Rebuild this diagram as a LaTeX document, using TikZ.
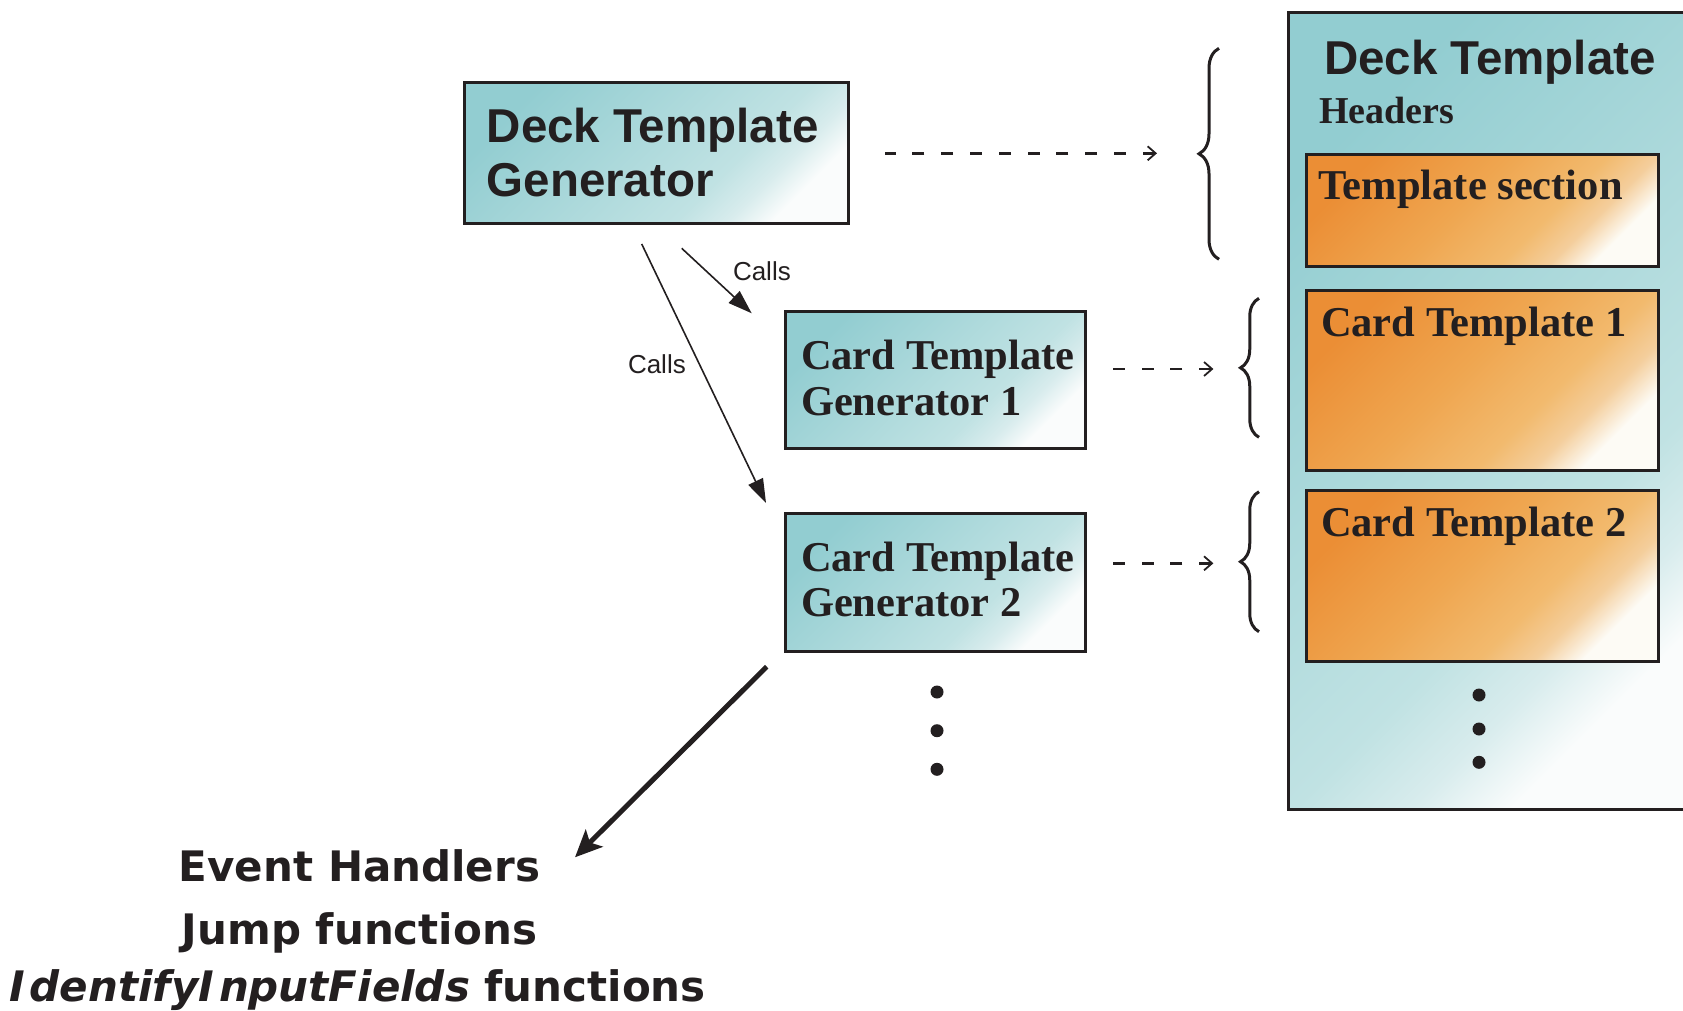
\documentclass[tikz,border=0pt]{standalone}
\usepackage{fontspec}
\setmainfont{Liberation Serif}
\newfontfamily\arialfont{Liberation Sans}
\newfontfamily\vfont{DejaVu Sans}[BoldFont={DejaVu Sans Bold},BoldItalicFont={DejaVu Sans Bold Oblique},ItalicFont={DejaVu Sans Oblique}]
\usetikzlibrary{arrows.meta,decorations.pathreplacing,calc}
\definecolor{ink}{HTML}{231F20}
\definecolor{tealA}{HTML}{92CDD1}
\definecolor{tealB}{HTML}{C0E2E3}
\definecolor{tealC}{HTML}{D8ECED}
\definecolor{tealD}{HTML}{FAFCFC}
\definecolor{orA}{HTML}{EB8E35}
\definecolor{orB}{HTML}{EFA650}
\definecolor{orC}{HTML}{F2BA6E}
\definecolor{orD}{HTML}{F4CE9C}
\definecolor{orE}{HTML}{FDFBF5}
\pgfdeclarehorizontalshading{tealgrad}{100bp}{color(0bp)=(tealA); color(25bp)=(tealA); color(62bp)=(tealB); color(69bp)=(tealC); color(75bp)=(tealD); color(100bp)=(tealD)}
\pgfdeclarehorizontalshading{orgrad}{100bp}{color(0bp)=(orA); color(25bp)=(orA); color(46bp)=(orB); color(61bp)=(orC); color(68.5bp)=(orD); color(75bp)=(orE); color(100bp)=(orE)}
\begin{document}
\begin{tikzpicture}[x=1pt,y=-1pt,
  box/.style={draw=ink, line width=3pt, anchor=north west, inner sep=0pt, outer sep=0pt, shade, shading angle=-45},
  tealbox/.style={box, shading=tealgrad},
  orbox/.style={box, shading=orgrad},
  txt/.style={inner sep=0pt, outer sep=0pt, anchor=base west, text=ink},
  sanshead/.style={txt, font={\arialfont\bfseries\fontsize{47.5pt}{50pt}\selectfont}},
  serifhead/.style={txt, font={\bfseries\fontsize{42.5pt}{46pt}\selectfont}},
  headersfont/.style={txt, font={\bfseries\fontsize{38pt}{42pt}\selectfont}},
  callsfont/.style={txt, font={\arialfont\fontsize{26pt}{28pt}\selectfont}},
  bottomtxt/.style={inner sep=0pt, anchor=base, text=ink, font={\vfont\bfseries\fontsize{42pt}{46pt}\selectfont}},
  dot/.style={circle, fill=ink, minimum size=13pt, inner sep=0pt},
  callarrow/.style={draw=ink, line width=1.6pt, -{Triangle[length=24pt,width=16pt]}},
  dasharrow/.style={draw=ink, line width=2.8pt, dash pattern=on 12pt off 16.8pt, {Straight Barb[length=8pt,width=14pt,line width=1.8pt]}-},
  bigarrow/.style={draw=ink, line width=5pt, -{Stealth[length=27pt,width=24pt,inset=6pt]}},
  bracestyle/.style={draw=ink, line width=3pt, decorate}
]
\useasboundingbox (0,0) rectangle (1683,1011);
\clip (0,0) rectangle (1683,1011);

% right big deck box
\node[tealbox, minimum width=400pt, minimum height=797pt] (deck) at (1288,12.4) {};
\node[sanshead] (deckA) at (1324,75) {Deck Template};
\node[headersfont] (hdr) at (1319,124) {Headers};
\node[orbox, minimum width=352.4pt, minimum height=111.7pt] (ts) at (1306.3,154.6) {};
\node[serifhead] (tsT) at (1318.5,200) {Template section};
\node[orbox, minimum width=352.4pt, minimum height=179.7pt] (ct1) at (1306.3,290.6) {};
\node[serifhead] (ct1T) at (1321,336.7) {Card Template 1};
\node[orbox, minimum width=352.4pt, minimum height=170.4pt] (ct2) at (1306.3,490.6) {};
\node[serifhead] (ct2T) at (1321,536.7) {Card Template 2};
\node[dot] (rd1) at (1479,695) {};
\node[dot] (rd2) at (1479,729) {};
\node[dot] (rd3) at (1479,762.3) {};

% generators
\node[tealbox, minimum width=384pt, minimum height=140pt] (dtg) at (464,83) {};
\node[sanshead] (dtgA) at (486.7,143) {Deck Template};
\node[sanshead] (dtgB) at (486.7,196.7) {Generator};

\node[tealbox, minimum width=300pt, minimum height=137.5pt] (ctg1) at (785.3,311.3) {};
\node[serifhead] (ctg1A) at (801,369.3) {Card Template};
\node[serifhead] (ctg1B) at (801,415) {Generator 1};

\node[tealbox, minimum width=300pt, minimum height=138pt] (ctg2) at (785.3,513) {};
\node[serifhead] (ctg2A) at (801,571) {Card Template};
\node[serifhead] (ctg2B) at (801,616.7) {Generator 2};

\node[dot] (ld1) at (937,692) {};
\node[dot] (ld2) at (937,730.7) {};
\node[dot] (ld3) at (937,769.3) {};

% calls arrows
\draw[callarrow] ($(dtg.south west)+(217.7,25.3)$) -- ($(ctg1.north west)+(-33.6,2)$);
\draw[callarrow] ($(dtg.south west)+(177.7,21)$) -- ($(ctg2.north west)+(-19.3,-10)$);
\node[callsfont] (calls1) at (733,280) {Calls};
\node[callsfont] (calls2) at (628,373.3) {Calls};

% braces
\draw[bracestyle, decoration={brace, amplitude=20pt}] (1219,259.3) -- (1219,48.3);
\draw[bracestyle, decoration={brace, amplitude=18.5pt}] (1259,437.3) -- (1259,298.3);
\draw[bracestyle, decoration={brace, amplitude=18.5pt}] (1259,631.7) -- (1259,491.7);

% dashed arrows
\coordinate (d1) at (1157,153.3);
\coordinate (d2) at (1213.4,369);
\coordinate (d3) at (1213.4,563.3);
\draw[dasharrow] (d1) -- ($(dtg.east |- d1)+(37,0)$);
\draw[dasharrow] (d2) -- ($(ctg1.east |- d2)+(25,0)$);
\draw[dasharrow] (d3) -- ($(ctg2.east |- d3)+(25,0)$);

% bottom text
\node[bottomtxt] (eh) at (359.5,881.7) {Event Handlers};
\node[bottomtxt] (jf) at (359.5,944) {Jump functions};
\node[bottomtxt] (iif) at (357.5,1001.7) {{\itshape I\kern5pt dentifyI\kern5pt nputFields} functions};
\coordinate (ehtip) at (575,857.3);
\draw[bigarrow] ($(ctg2.south west)+(-18.6,15.7)$) -- (ehtip);
\end{tikzpicture}
\end{document}
